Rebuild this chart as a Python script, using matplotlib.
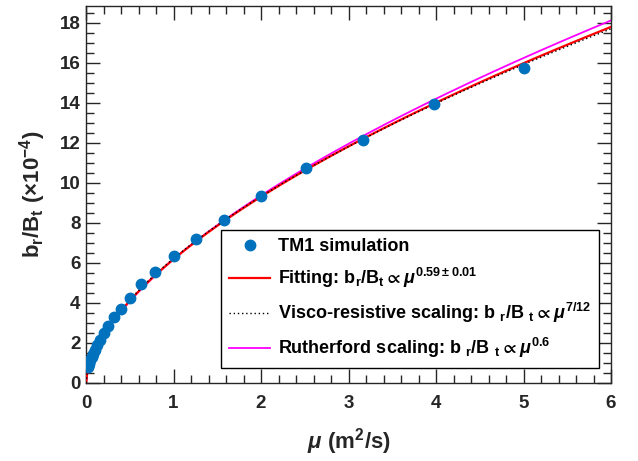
import numpy as np
import matplotlib
matplotlib.use("Agg")
import matplotlib.pyplot as plt
from matplotlib.ticker import MultipleLocator

plt.rcParams['font.family'] = ['Liberation Sans', 'DejaVu Sans']
plt.rcParams['font.weight'] = 'bold'
plt.rcParams['mathtext.fontset'] = 'custom'
plt.rcParams['mathtext.rm'] = 'Liberation Sans:bold'
plt.rcParams['mathtext.bf'] = 'Liberation Sans:bold'
plt.rcParams['mathtext.it'] = 'Liberation Sans:bold:italic'
plt.rcParams['mathtext.fallback'] = 'stixsans'

dark = '#262626'

# TM1 simulation: viscosity mu (m^2/s) vs saturated island amplitude b_r/B_t (x1e-4)
mu = [0.02, 0.025, 0.0316, 0.0398, 0.05, 0.063, 0.079, 0.1, 0.126, 0.158,
      0.2, 0.25, 0.316, 0.398, 0.5, 0.63, 0.79, 1.0, 1.26, 1.58,
      2.0, 2.51, 3.16, 3.98, 5.0]
br = [0.81, 0.87, 0.95, 1.04, 1.16, 1.30, 1.47, 1.67, 1.90, 2.17,
      2.48, 2.85, 3.28, 3.70, 4.26, 4.93, 5.53, 6.36, 7.18, 8.14,
      9.34, 10.75, 12.15, 13.95, 15.75]

# power-law scalings b_r/B_t = C * mu^p
fit_C, fit_p = 6.18, 0.59
visco_C, visco_p = 6.22, 7.0 / 12.0
ruth_C, ruth_p = 6.18, 0.6

mu_line = np.linspace(0, 6, 400)

fig = plt.figure(figsize=(6.38, 4.61), dpi=100)
ax = fig.add_axes([0.1348, 0.1692, 0.8229, 0.8178])

ax.plot(mu_line, ruth_C * mu_line**ruth_p, color='#ff00ff', lw=1.3, zorder=2)
ax.plot(mu_line, fit_C * mu_line**fit_p, color='red', lw=1.6, zorder=3)
ax.plot(mu_line, visco_C * mu_line**visco_p, color='black', lw=1.0, ls=(0, (1, 2)), zorder=4)
ax.plot(mu, br, 'o', color='#0072BD', ms=7.5, mec='#0072BD', zorder=5)

ax.set_xlim(0, 6)
ax.set_ylim(0, 18.83)
ax.xaxis.set_major_locator(MultipleLocator(1))
ax.xaxis.set_minor_locator(MultipleLocator(0.2))
ax.yaxis.set_major_locator(MultipleLocator(2))
ax.yaxis.set_minor_locator(MultipleLocator(0.5))
ax.tick_params(which='both', direction='in', top=True, right=True, colors=dark,
               width=1.0, labelsize=13.5)
ax.tick_params(which='major', length=10)
ax.tick_params(which='minor', length=5.5)
ax.tick_params(axis='x', pad=9)
ax.tick_params(axis='y', pad=4)
for lab in ax.get_xticklabels() + ax.get_yticklabels():
    lab.set_fontweight('bold')
for s in ax.spines.values():
    s.set_color(dark)
    s.set_linewidth(1.0)

ax.set_xlabel(r'$\mu\ \mathrm{(m^2/s)}$', fontsize=16, color=dark, labelpad=10)
ax.set_ylabel(r'$\mathrm{b_r/B_t\ (\times10^{-4})}$', fontsize=16, color=dark, labelpad=8)

labels = [
    'TM1 simulation',
    r'Fitting: $\mathrm{b_r/B_t}\propto\mu^{\mathrm{0.59\pm0.01}}$',
    r'Visco-resistive scaling: $\mathrm{b\ {}_r/B\ {}_t}\propto\mu^{\mathrm{7/12}}$',
    r'Rutherford scaling: $\mathrm{b\ {}_r/B\ {}_t}\propto\mu^{\mathrm{0.6}}$',
]
h = ax.get_lines()
leg = ax.legend([h[3], h[1], h[2], h[0]], labels, loc='lower right',
                bbox_to_anchor=(0.977, 0.039), fontsize=13, frameon=True,
                fancybox=False, edgecolor='black', framealpha=1,
                handlelength=2.3, handletextpad=0.4, labelspacing=0.6,
                borderpad=0.45, borderaxespad=0)
leg.get_frame().set_linewidth(1.0)
for t in leg.get_texts():
    t.set_color('black')
    t.set_fontweight('bold')

fig.savefig('out.png', dpi=100)
